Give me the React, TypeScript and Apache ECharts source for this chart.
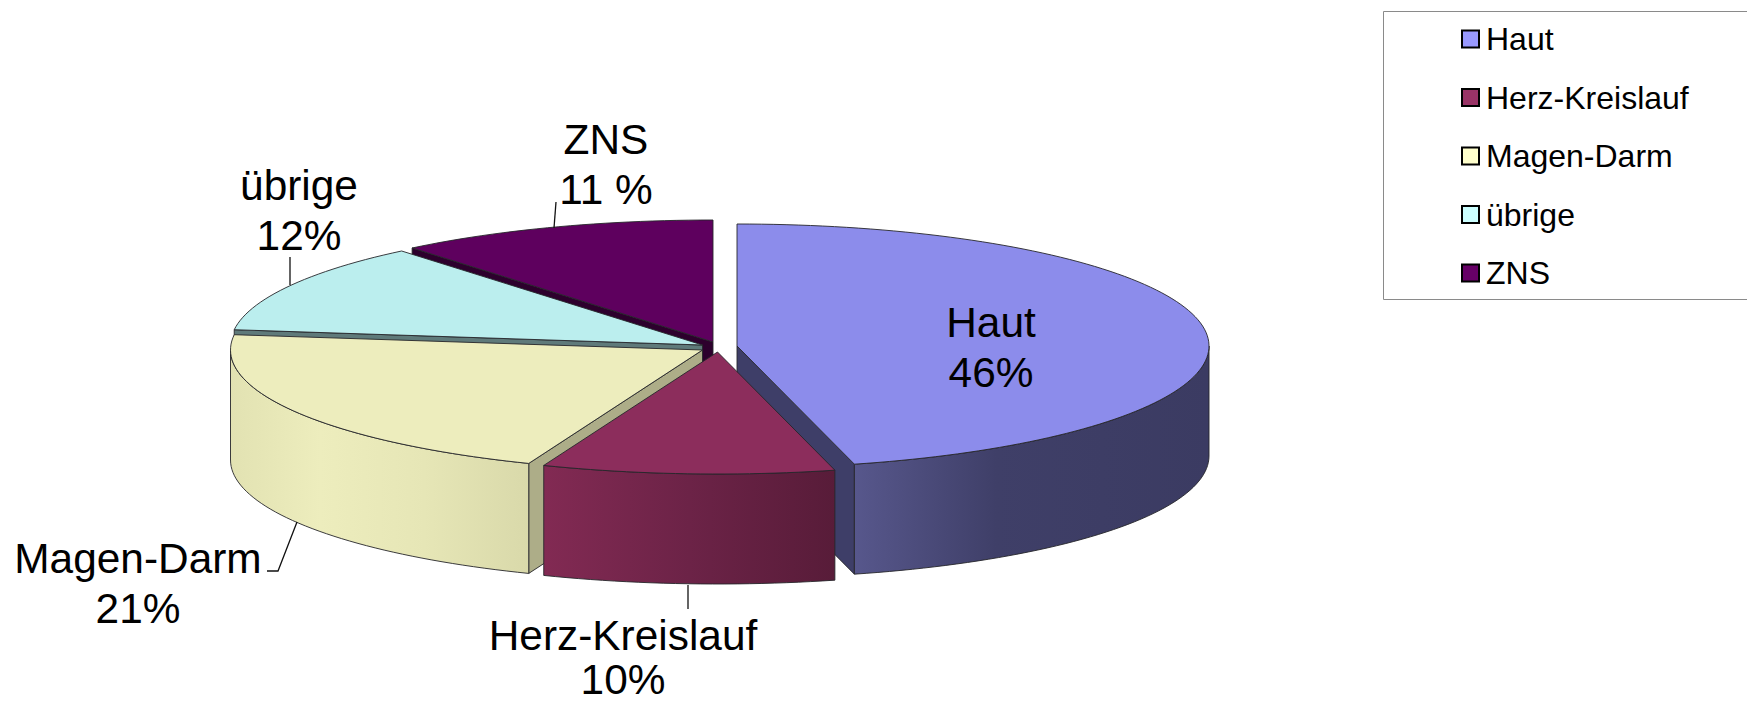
import React, { useEffect, useRef } from "react";
import * as echarts from "echarts";

// ---- data ----
const categories = ["Haut", "Herz-Kreislauf", "Magen-Darm", "übrige", "ZNS"];
const values = [46, 10, 21, 12, 11];
const valueLabels = ["46%", "10%", "21%", "12%", "11 %"];
const legendColors = ["#9999ff", "#993366", "#ffffcc", "#ccffff", "#660066"];
const topColors = ["#8c8ceb", "#8c2d5c", "#ededbd", "#bbeeee", "#5e005e"];
const faceColors = ["#3e3e68", "#5a1d3a", "#adad88", "#5f7a7a", "#2d002d"];

// ---- drawing layout (not data) ----
const RX = 472;
const RY = 122;
const DEPTH = 110;
const centers = [[737, 346], [717.5, 352], [702.5, 350], [702.5, 345], [713, 342]];
const paintRank = [3, 4, 2, 1, 0];
const sideStops: [number, string][][] = [
  [[0, "#57578c"], [0.4, "#3f3f68"], [1, "#3b3b62"]],
  [[0, "#822a53"], [0.5, "#6c2347"], [1, "#581c39"]],
  [[0, "#e2e2b2"], [0.3, "#ededbd"], [0.65, "#e6e6b6"], [1, "#d9d9aa"]],
  [[0, "#8ab0b0"], [1, "#8ab0b0"]],
  [[0, "#400040"], [1, "#400040"]],
];
const labelPos = [[991, 347], [623, 657.5], [138, 583], [299, 210], [606, 164]];
const labelLineHeights = [50, 44, 50, 50, 50];
const leaders = [
  null,
  [[688, 585], [688, 609]],
  [[297, 522], [278, 571], [267, 571]],
  [[290, 257], [290, 285]],
  [[556, 202], [554, 228]],
];

const total = values.reduce((a, b) => a + b, 0);
const starts: number[] = [];
values.reduce((acc, v, i) => {
  starts[i] = acc;
  return acc + v;
}, 0);

const rad = (d: number) => (d * Math.PI) / 180;

function arcPoints(cx: number, cy: number, a0: number, a1: number) {
  const pts: number[][] = [];
  const n = Math.max(2, Math.ceil((a1 - a0) / 1.5));
  for (let k = 0; k <= n; k++) {
    const a = rad(a0 + ((a1 - a0) * k) / n);
    pts.push([cx + RX * Math.sin(a), cy - RY * Math.cos(a)]);
  }
  return pts;
}

const EDGE = { stroke: "#26262a", lineWidth: 0.9, lineJoin: "round" };

function makeRenderItem(i: number) {
  return (_params: any, api: any) => {
    const value = api.value(0);
    const a0 = (starts[i] / total) * 360;
    const a1 = a0 + (value / total) * 360;
    const [cx, cy] = centers[i];
    const base = paintRank[i] * 20;
    const children: any[] = [];
    let z2 = base;

    const face = (a: number) => {
      const p = arcPoints(cx, cy, a, a)[0];
      children.push({
        type: "polygon",
        z2: z2++,
        shape: { points: [[cx, cy], p, [p[0], p[1] + DEPTH], [cx, cy + DEPTH]] },
        style: { fill: faceColors[i], ...EDGE },
      });
    };
    if (Math.sin(rad(a0)) < -1e-6) face(a0);
    if (Math.sin(rad(a1)) > 1e-6) face(a1);

    const s0 = Math.max(a0, 90);
    const s1 = Math.min(a1, 270);
    if (s1 > s0) {
      const top = arcPoints(cx, cy, s0, s1);
      const bottom = top.map(([x, y]) => [x, y + DEPTH]).reverse();
      const leftToRight = [...sideStops[i]];
      children.push({
        type: "polygon",
        z2: z2++,
        shape: { points: [...top, ...bottom] },
        style: {
          fill: {
            type: "linear",
            x: 0,
            y: 0,
            x2: 1,
            y2: 0,
            colorStops: leftToRight.map(([offset, color]) => ({ offset, color })),
          },
          ...EDGE,
        },
      });
    }

    children.push({
      type: "polygon",
      z2: z2++,
      shape: { points: [[cx, cy], ...arcPoints(cx, cy, a0, a1)] },
      style: { fill: topColors[i], ...EDGE },
    });

    const lead = leaders[i];
    if (lead) {
      children.push({
        type: "polyline",
        z2: 200,
        shape: { points: lead },
        style: { fill: "none", stroke: "#111", lineWidth: 1.3 },
      });
    }

    children.push({
      type: "text",
      z2: 201,
      style: {
        x: labelPos[i][0],
        y: labelPos[i][1],
        text: `${categories[i]}\n${valueLabels[i]}`,
        fill: "#000",
        font: '42.4px "Liberation Sans", Arial, sans-serif',
        lineHeight: labelLineHeights[i],
        align: "center",
        verticalAlign: "middle",
      },
    });

    return { type: "group", children };
  };
}

export default function App() {
  const ref = useRef<HTMLDivElement>(null);
  useEffect(() => {
    const chart = echarts.init(ref.current!, undefined, { renderer: "svg" });
    chart.setOption({
      animation: false,
      backgroundColor: "#ffffff",
      legend: {
        left: 1461,
        top: 11,
        orient: "vertical",
        icon: "rect",
        itemWidth: 17,
        itemHeight: 17,
        itemGap: 26.5,
        padding: [12, 0, 0, 0],
        selectedMode: false,
        data: categories,
        itemStyle: { borderColor: "#000", borderWidth: 2 },
        textStyle: {
          fontFamily: '"Liberation Sans", Arial, sans-serif',
          fontSize: 32,
          color: "#000",
          padding: [0, 0, 0, 2],
        },
      },
      graphic: [
        {
          type: "rect",
          silent: true,
          shape: { x: 1383.5, y: 11.5, width: 400, height: 288 },
          style: { fill: "none", stroke: "#8a8a8a", lineWidth: 1 },
        },
      ],
      series: categories.map((name, i) => ({
        type: "custom",
        name,
        coordinateSystem: "none",
        silent: true,
        z: 2 + paintRank[i],
        itemStyle: { color: legendColors[i] },
        renderItem: makeRenderItem(i),
        data: [[values[i]]],
      })),
    });
    return () => chart.dispose();
  }, []);
  return (
    <div
      ref={ref}
      style={{ position: "absolute", left: 0, top: 0, width: 1747, height: 702 }}
    />
  );
}
